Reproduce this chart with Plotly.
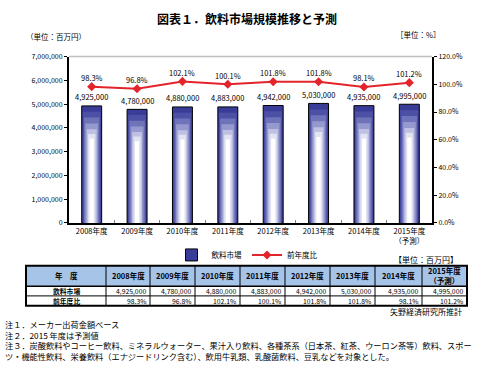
import plotly.graph_objects as go

years = ["2008年度", "2009年度", "2010年度", "2011年度", "2012年度", "2013年度", "2014年度", "2015年度<br>（予測）"]
market = [4925000, 4780000, 4880000, 4883000, 4942000, 5030000, 4935000, 4995000]
ratio = [98.3, 96.8, 102.1, 100.1, 101.8, 101.8, 98.1, 101.2]
left_ticks = [0, 1000000, 2000000, 3000000, 4000000, 5000000, 6000000, 7000000]
right_ticks = [0, 20, 40, 60, 80, 100, 120]
table_head = "年　度"
table_rows = ["飲料市場", "前年度比"]

W, H = 494, 368
FONT = "Noto Sans CJK JP"

def px_x(v):
    return v / W

def px_y(v):
    return 1 - v / H

def note(x, y, text, size, xanchor="center", bold=False, yanchor="middle"):
    return dict(x=px_x(x), y=px_y(y), xref="paper", yref="paper", xanchor=xanchor, yanchor=yanchor,
                text=f"<b>{text}</b>" if bold else text, showarrow=False, align=xanchor if xanchor != "center" else "center",
                font=dict(family=FONT, size=size, color="black"))

fig = go.Figure()

# gradient-like bars built from overlaid layers
layers = [
    (0.44, "#393d98", 1.00),
    (0.39, "#4d51a6", 0.95),
    (0.34, "#6f73ba", 0.90),
    (0.28, "#9699cd", 0.85),
    (0.22, "#bfc1e2", 0.80),
    (0.16, "#e2e3f2", 0.76),
    (0.09, "#ffffff", 0.72),
]
for i, (w, c, f) in enumerate(layers):
    fig.add_trace(go.Bar(
        x=years, y=[v * f for v in market], width=w,
        marker=dict(color=c, line=dict(color="black", width=1 if i == 0 else 0)),
        name="飲料市場", showlegend=(i == 0), yaxis="y", hoverinfo="skip",
    ))

fig.add_trace(go.Scatter(
    x=years, y=ratio, yaxis="y2", mode="lines+markers", name="前年度比",
    line=dict(color="#e3242b", width=2),
    marker=dict(symbol="diamond", size=7, color="#e3242b"),
))

annotations = []
for x, v in zip(years, market):
    annotations.append(dict(x=x, y=v, xref="x", yref="y", text=f"{v:,}", showarrow=False,
                            xanchor="center", yanchor="middle",
                            yshift=9, font=dict(family=FONT, size=7.5, color="black")))
for x, r in zip(years, ratio):
    annotations.append(dict(x=x, y=r, xref="x", yref="y2", text=f"{r:.1f}%", showarrow=False,
                            xanchor="center", yanchor="middle",
                            yshift=9, font=dict(family=FONT, size=7.5, color="black")))

# title and units
annotations.append(note(247, 13, "図表１．飲料市場規模推移と予測", 12, bold=True))
annotations.append(note(24, 31, "（単位：百万円）", 7.5, xanchor="left"))
annotations.append(note(442, 29, "［単位：%］", 7.5, xanchor="right"))
annotations.append(note(460, 261, "【単位：百万円】", 8, xanchor="right"))
annotations.append(note(464, 314, "矢野経済研究所推計", 8, xanchor="right"))

notes = [
    "注１．メーカー出荷金額ベース",
    "注２．2015 年度は予測値",
    "注３．炭酸飲料やコーヒー飲料、ミネラルウォーター、果汁入り飲料、各種茶系（日本茶、紅茶、ウーロン茶等）飲料、スポー",
    "ツ・機能性飲料、栄養飲料（エナジードリンク含む）、飲用牛乳類、乳酸菌飲料、豆乳などを対象とした。",
]
annotations.append(note(3, 319, "<br>".join(notes), 8.2, xanchor="left", yanchor="top"))

# table drawn with shapes + annotations
col_edges = [26, 106, 150, 195, 240, 285, 330, 375, 422, 467]
row_edges = [267, 288, 298, 308]
shapes = [
    dict(type="line", xref="paper", yref="paper", x0=px_x(69), x1=px_x(432), y0=px_y(52), y1=px_y(52),
         line=dict(color="#c0c0c0", width=1.5)),
    dict(type="rect", xref="paper", yref="paper", x0=px_x(col_edges[0]), x1=px_x(col_edges[-1]),
         y0=px_y(row_edges[1]), y1=px_y(row_edges[0]), fillcolor="#a6c3e8", line=dict(width=0)),
]
for cx in col_edges[1:-1]:
    shapes.append(dict(type="line", xref="paper", yref="paper", x0=px_x(cx), x1=px_x(cx),
                       y0=px_y(row_edges[-1]), y1=px_y(row_edges[0]), line=dict(color="black", width=1)))
for ry in row_edges[1:-1]:
    shapes.append(dict(type="line", xref="paper", yref="paper", x0=px_x(col_edges[0]), x1=px_x(col_edges[-1]),
                       y0=px_y(ry), y1=px_y(ry), line=dict(color="black", width=1.5 if ry == row_edges[1] else 1)))
shapes.append(dict(type="rect", xref="paper", yref="paper", x0=px_x(col_edges[0]), x1=px_x(col_edges[-1]),
                   y0=px_y(row_edges[-1]), y1=px_y(row_edges[0]), line=dict(color="black", width=2)))

header_vals = [table_head] + years
for j, h in enumerate(header_vals):
    cx = (col_edges[j] + col_edges[j + 1]) / 2
    cy = (row_edges[0] + row_edges[1]) / 2
    annotations.append(note(cx, cy, h, 7.5, bold=True))
for i, label in enumerate(table_rows):
    cy = (row_edges[i + 1] + row_edges[i + 2]) / 2
    annotations.append(note((col_edges[0] + col_edges[1]) / 2, cy, label, 6.8, bold=True))
    vals = [f"{m:,}" for m in market] if i == 0 else [f"{r:.1f}%" for r in ratio]
    for j, v in enumerate(vals):
        annotations.append(note(col_edges[j + 2] - 2, cy, v, 6.8, xanchor="right"))

fig.update_layout(
    width=W, height=H, margin=dict(l=0, r=0, t=0, b=0),
    paper_bgcolor="white", plot_bgcolor="white",
    barmode="overlay", font=dict(family=FONT, size=7.5, color="black"),
    xaxis=dict(domain=[px_x(69), px_x(432)], showline=True, linecolor="black", linewidth=2,
               ticks="inside", ticklen=3, tickcolor="#808080", tickson="boundaries",
               tickfont=dict(family=FONT, size=7.5), showgrid=False, fixedrange=True),
    yaxis=dict(domain=[px_y(223), px_y(52)], range=[0, 7000000], tickvals=left_ticks,
               tickformat=",", showline=True, linecolor="black", linewidth=2, ticks="outside",
               ticklen=3, tickcolor="black", showgrid=False, zeroline=False,
               tickfont=dict(family=FONT, size=7)),
    yaxis2=dict(overlaying="y", side="right", anchor="x", range=[0, 120], tickvals=right_ticks,
                ticktext=[f"{v:.1f}%" for v in right_ticks], showline=True, linecolor="black",
                linewidth=2, ticks="outside", ticklen=3, tickcolor="black", showgrid=False,
                zeroline=False, tickfont=dict(family=FONT, size=7)),
    legend=dict(orientation="h", x=0.5, xanchor="center", y=px_y(241), yanchor="top",
                font=dict(family=FONT, size=7.5), bgcolor="rgba(0,0,0,0)", itemwidth=30,
                tracegroupgap=0),
    annotations=annotations, shapes=shapes, showlegend=True,
)

fig.write_html("out.html", config={"displayModeBar": False},
               post_script="document.body.style.margin='0';document.body.style.padding='0';")
